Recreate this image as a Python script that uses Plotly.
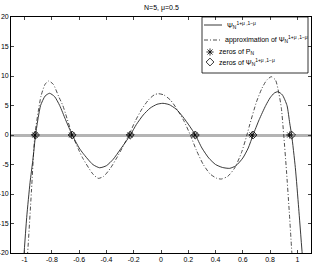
import plotly.graph_objects as go

title_text = "N=5, μ=0.5"

# Ψ_N^{1+μ,1-μ} (solid)
psi_x = [-1.01, -0.985, -0.96, -0.94, -0.92, -0.90, -0.883, -0.85, -0.817, -0.78, -0.743, -0.70, -0.651,
         -0.60, -0.572, -0.50, -0.45, -0.40, -0.35, -0.30, -0.26, -0.225,
         -0.18, -0.13, -0.08, -0.03, 0.014, 0.06, 0.11, 0.16, 0.21, 0.252,
         0.30, 0.35, 0.40, 0.45, 0.504, 0.55, 0.60, 0.64, 0.675,
         0.72, 0.768, 0.80, 0.83, 0.858, 0.89, 0.924, 0.944, 0.958, 0.985, 1.01, 1.04]
psi_y = [-22.0, -14.0, -8.0, -4.3, 0.0, 3.0, 5.0, 6.6, 7.07, 6.5, 5.0, 2.6, 0.0,
         -2.2, -3.1, -5.0, -5.55, -5.2, -4.1, -2.5, -1.2, 0.0,
         1.8, 3.4, 4.55, 5.2, 5.37, 5.15, 4.4, 3.1, 1.5, 0.0,
         -2.2, -3.9, -5.0, -5.5, -5.65, -5.2, -3.9, -2.2, 0.0,
         2.6, 5.0, 6.3, 7.1, 7.34, 6.8, 5.0, 2.0, 0.0, -5.5, -12.5, -21.5]

# approximation of Ψ (dash-dot)
apx_x = [-0.995, -0.978, -0.95, -0.925, -0.90, -0.88, -0.85, -0.824, -0.79, -0.75, -0.72, -0.70, -0.65,
         -0.60, -0.572, -0.50, -0.46, -0.42, -0.37, -0.32, -0.28, -0.235,
         -0.19, -0.14, -0.09, -0.05, -0.02, 0.02, 0.07, 0.12, 0.17, 0.215,
         0.26, 0.31, 0.36, 0.41, 0.443, 0.49, 0.54, 0.59, 0.63,
         0.65, 0.70, 0.74, 0.775, 0.809, 0.84, 0.865, 0.883, 0.90, 0.92, 0.94, 0.965]
apx_y = [-25.0, -20.0, -9.5, 0.0, 4.0, 6.6, 8.6, 9.15, 8.6, 6.5, 5.0, 3.6, 0.0,
         -2.7, -4.0, -6.6, -7.35, -7.0, -5.6, -3.7, -2.0, 0.0,
         2.3, 4.4, 6.0, 6.8, 7.0, 6.8, 5.9, 4.3, 2.3, 0.0,
         -2.6, -5.0, -6.6, -7.35, -7.46, -7.0, -5.6, -3.0, 0.0,
         1.7, 5.6, 7.9, 9.3, 9.88, 9.3, 7.0, 4.5, 0.0, -6.0, -12.8, -22.0]

zeros_P = [-0.925, -0.655, -0.228, 0.248, 0.668, 0.944]
zeros_P_y = [0, 0, 0, 0, 0, 0]
zeros_psi = [-0.92, -0.651, -0.225, 0.252, 0.675, 0.958]
zeros_psi_y = [0, 0, 0, 0, 0, 0]

x_ticks = [-1, -0.8, -0.6, -0.4, -0.2, 0, 0.2, 0.4, 0.6, 0.8, 1]
x_ticklabels = ["-1", "-0.8", "-0.6", "-0.4", "-0.2", "0", "0.2", "0.4", "0.6", "0.8", "1"]
y_ticks = [-20, -15, -10, -5, 0, 5, 10, 15, 20]
y_ticklabels = ["-20", "-15", "-10", "-5", "0", "5", "10", "15", "20"]

legend_labels = ["Ψ<sub>N</sub><sup>1+μ ,1−μ</sup>",
                 "approximation of Ψ<sub>N</sub><sup>1+μ ,1−μ</sup>",
                 "zeros of P<sub>N</sub>",
                 "zeros of Ψ<sub>N</sub><sup>1+μ ,1−μ</sup>"]

FONT = "Liberation Sans, Arial, sans-serif"
DASHDOT = "4px,2px,1px,2px"
SMOOTH = 0.6

fig = go.Figure()
fig.add_trace(go.Scatter(x=psi_x, y=psi_y, mode="lines",
                         line=dict(color="#222222", width=0.9, shape="spline", smoothing=SMOOTH)))
fig.add_trace(go.Scatter(x=apx_x, y=apx_y, mode="lines",
                         line=dict(color="#222222", width=0.8, dash=DASHDOT, shape="spline", smoothing=SMOOTH)))
fig.add_trace(go.Scatter(x=zeros_P, y=zeros_P_y, mode="markers",
                         marker=dict(symbol="asterisk-open", size=6, color="black",
                                     line=dict(color="black", width=0.8))))
fig.add_trace(go.Scatter(x=zeros_psi, y=zeros_psi_y, mode="markers",
                         marker=dict(symbol="diamond-open", size=6, color="black",
                                     line=dict(color="black", width=0.8))))

# legend symbols on an overlay 0..1 axis (paper-like)
W, H, L, B = 300.0, 236.0, 11.0, 9.0
def px(xp): return (xp - L) / W
def py(yp): return (262 - B - yp) / H

rows = [25, 40, 52, 62]
fig.add_trace(go.Scatter(x=[px(204), px(222)], y=[py(rows[0])] * 2, mode="lines",
                         line=dict(color="#222222", width=0.9), xaxis="x2", yaxis="y2"))
fig.add_trace(go.Scatter(x=[px(204), px(222)], y=[py(rows[1])] * 2, mode="lines",
                         line=dict(color="#222222", width=0.8, dash=DASHDOT), xaxis="x2", yaxis="y2"))
fig.add_trace(go.Scatter(x=[px(210)], y=[py(rows[2])], mode="markers",
                         marker=dict(symbol="asterisk-open", size=6, color="black",
                                     line=dict(color="black", width=0.8)), xaxis="x2", yaxis="y2"))
fig.add_trace(go.Scatter(x=[px(210)], y=[py(rows[3])], mode="markers",
                         marker=dict(symbol="diamond-open", size=6, color="black",
                                     line=dict(color="black", width=0.8)), xaxis="x2", yaxis="y2"))

text_x = [225, 223, 217, 217]
for lab, r, tx in zip(legend_labels, rows, text_x):
    fig.add_annotation(x=px(tx), y=py(r), xref="paper", yref="paper", text=lab, showarrow=False,
                       xanchor="left", yanchor="middle", font=dict(size=7, color="black", family=FONT))

fig.add_shape(type="rect", xref="paper", yref="paper", x0=px(202), x1=px(308), y0=py(73), y1=1.0,
              line=dict(color="black", width=0.8), fillcolor="rgba(0,0,0,0)")

fig.add_annotation(x=0.5, y=1.0, xref="paper", yref="paper", yshift=3, text=title_text, showarrow=False,
                   xanchor="center", yanchor="bottom", font=dict(size=7, color="black", family=FONT))

fig.update_layout(
    width=316, height=262, showlegend=False,
    margin=dict(l=11, r=5, t=17, b=9, autoexpand=False),
    plot_bgcolor="white", paper_bgcolor="white",
    font=dict(family=FONT, size=7, color="black"),
    xaxis=dict(range=[-1.1, 1.1], tickvals=x_ticks, ticktext=x_ticklabels, ticks="inside", ticklen=3,
               showline=True, linecolor="black", linewidth=0.8, mirror="ticks", showgrid=False,
               zeroline=False, tickfont=dict(size=7), automargin=False, ticklabelstandoff=0),
    yaxis=dict(range=[-20, 20], tickvals=y_ticks, ticktext=y_ticklabels, ticks="inside", ticklen=3,
               showline=True, linecolor="black", linewidth=0.8, mirror="ticks", showgrid=False,
               zeroline=True, zerolinecolor="#b4b4b4", zerolinewidth=2.5, tickfont=dict(size=7),
               automargin=False, ticklabelstandoff=0),
    xaxis2=dict(range=[0, 1], overlaying="x", visible=False, fixedrange=True),
    yaxis2=dict(range=[0, 1], overlaying="y", visible=False, fixedrange=True),
)

fig.write_html("out.html", config={"displayModeBar": False},
               post_script="document.body.style.margin='0';document.body.style.padding='0';"
                           "document.body.style.overflow='hidden';")
